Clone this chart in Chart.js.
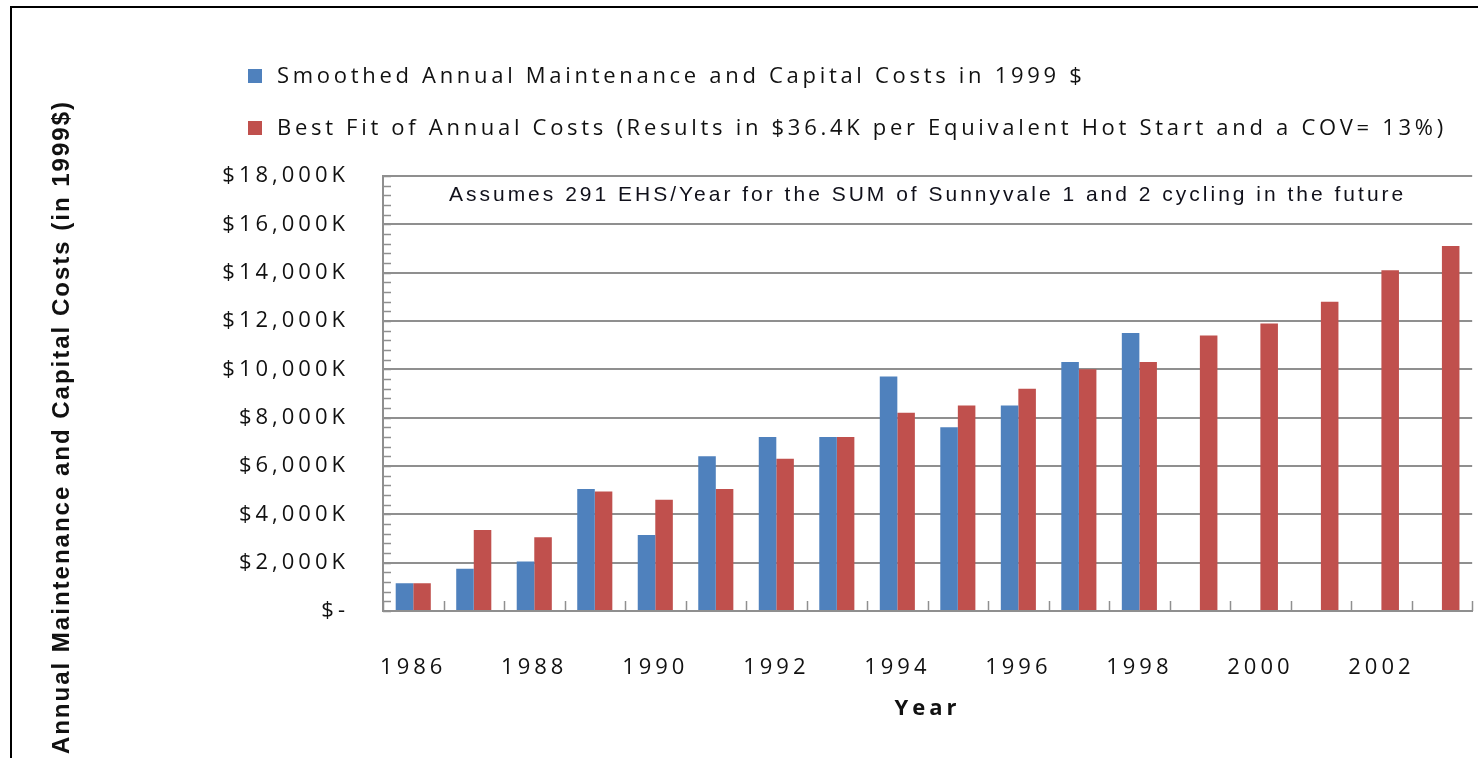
<!DOCTYPE html>
<html>
<head>
<meta charset="utf-8">
<script src="https://cdn.jsdelivr.net/npm/chart.js@4"></script>
<style>
    html, body { margin: 0; padding: 0; background: #fff; overflow: hidden; }
    #frame {
        position: absolute; left: 10px; top: 6px;
        width: 1480px; height: 770px;
        border-left: 2px solid #000; border-top: 2px solid #000;
    }
    #costChart { position: absolute; left: 0; top: 0; }
</style>
</head>
<body>
<div id="frame"></div>
<canvas id="costChart" width="1478" height="758"></canvas>
<script>
// years on the category axis
const years = ["1986", "1987", "1988", "1989", "1990", "1991", "1992", "1993", "1994",
    "1995", "1996", "1997", "1998", "1999", "2000", "2001", "2002", "2003"];

// thousands of 1999 dollars
const smoothedCosts = [1150, 1750, 2050, 5050, 3150, 6400, 7200, 7200, 9700,
    7600, 8500, 10300, 11500, null, null, null, null, null];
const bestFitCosts = [1150, 3350, 3050, 4950, 4600, 5050, 6300, 7200, 8200,
    8500, 9200, 10000, 10300, 11400, 11900, 12800, 14100, 15100];

const yTicks = [0, 2000, 4000, 6000, 8000, 10000, 12000, 14000, 16000, 18000];

const seriesNames = [
    "Smoothed Annual Maintenance and Capital Costs in 1999 $",
    "Best Fit of Annual Costs (Results in $36.4K per Equivalent Hot Start and a COV= 13%)"
];
const yTitle = "Annual Maintenance and Capital Costs (in 1999$)";
const xTitle = "Year";
const note = "Assumes 291 EHS/Year for the SUM of Sunnyvale 1 and 2 cycling in the future";

const BLUE = "#4f81bd";
const RED = "#c0504d";
const GRID = "#8f8f8f";
const TEXT = "#111111";

// wide-spaced text, like the old spreadsheet rendering
const textSpacing = {
    id: "textSpacing",
    beforeLayout(chart) { chart.ctx.letterSpacing = "4px"; },
    beforeDraw(chart) { chart.ctx.letterSpacing = "4px"; }
};

// small tick marks inside the plot: minor ticks on the value axis, category
// separators on the year axis
const axisMarks = {
    id: "axisMarks",
    afterDatasetsDraw(chart) {
        const { ctx, scales: { x, y } } = chart;
        ctx.save();
        ctx.strokeStyle = GRID;
        ctx.lineWidth = 1.5;
        ctx.beginPath();
        for (let v = 0; v <= 18000; v += 400) {
            const py = Math.round(y.getPixelForValue(v)) + 0.5;
            ctx.moveTo(x.left, py);
            ctx.lineTo(x.left + 8, py);
        }
        const n = years.length;
        for (let i = 0; i <= n; i++) {
            const px = Math.round(x.left + (i * x.width) / n) + 0.5;
            ctx.moveTo(px, y.bottom);
            ctx.lineTo(px, y.bottom - 10);
        }
        ctx.stroke();
        ctx.restore();
    }
};

// legend, rotated y title and the note along the top of the plot
const extraText = {
    id: "extraText",
    afterDraw(chart) {
        const { ctx, chartArea } = chart;
        ctx.save();
        ctx.fillStyle = TEXT;

        // legend
        ctx.font = "22px 'Open Sans'";
        ctx.letterSpacing = "3.7px";
        ctx.textBaseline = "middle";
        ctx.textAlign = "left";
        chart.data.datasets.forEach((ds, i) => {
            const cy = 76 + i * 52;
            ctx.fillStyle = ds.backgroundColor;
            ctx.fillRect(248, cy - 7, 14, 14);
            ctx.fillStyle = TEXT;
            ctx.fillText(ds.label, 277, cy + 1);
        });

        // y axis title
        ctx.save();
        ctx.translate(62, 100);
        ctx.rotate(-Math.PI / 2);
        ctx.font = "bold 24px 'Liberation Sans'";
        ctx.letterSpacing = "2px";
        ctx.textAlign = "right";
        ctx.fillText(yTitle, 0, 0);
        ctx.restore();

        // note
        ctx.font = "21px 'Liberation Sans'";
        ctx.letterSpacing = "3px";
        ctx.textAlign = "center";
        ctx.fillStyle = "#10101a";
        ctx.fillText(note, (chartArea.left + chartArea.right) / 2, chartArea.top + 19);
        ctx.restore();
    }
};

const chart = new Chart(document.getElementById("costChart"), {
    type: "bar",
    data: {
        labels: years,
        datasets: [
            { label: seriesNames[0], data: smoothedCosts, backgroundColor: BLUE },
            { label: seriesNames[1], data: bestFitCosts, backgroundColor: RED }
        ]
    },
    options: {
        responsive: false,
        animation: false,
        categoryPercentage: 0.58,
        barPercentage: 1.0,
        layout: { padding: { left: 100, right: 3, top: 176, bottom: 0 } },
        plugins: {
            legend: { display: false },
            tooltip: { enabled: false }
        },
        scales: {
            x: {
                grid: { display: false },
                border: { color: GRID, width: 2 },
                ticks: {
                    autoSkip: false,
                    maxRotation: 0,
                    padding: 36,
                    color: TEXT,
                    font: { family: "'Open Sans'", size: 22 },
                    callback: (value, index) => (index % 2 === 0 ? years[index] : "")
                },
                title: {
                    display: true,
                    text: xTitle,
                    color: TEXT,
                    font: { family: "'Open Sans'", size: 22, weight: "bold" },
                    padding: { top: 0, bottom: 36 }
                },
                afterFit: (scale) => { scale.height = 147; }
            },
            y: {
                min: 0,
                max: 18000,
                afterBuildTicks: (scale) => { scale.ticks = yTicks.map((v) => ({ value: v })); },
                grid: { color: GRID, lineWidth: 2, drawTicks: false },
                border: { color: GRID, width: 2 },
                ticks: {
                    padding: 34,
                    color: TEXT,
                    font: { family: "'Open Sans'", size: 22 },
                    callback: (v) => (v === 0 ? "$-" : "$" + v.toLocaleString("en-US") + "K")
                },
                afterFit: (scale) => { scale.width = 283; }
            }
        }
    },
    plugins: [textSpacing, axisMarks, extraText]
});
</script>
</body>
</html>
